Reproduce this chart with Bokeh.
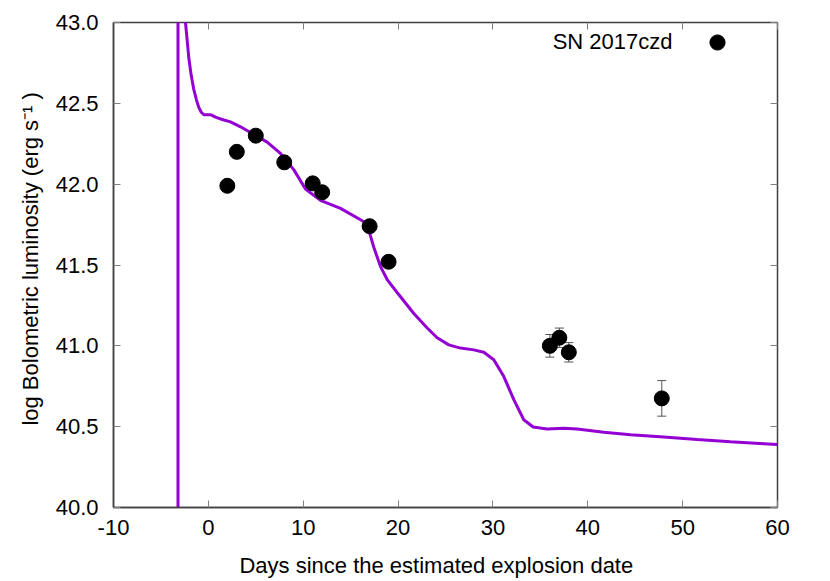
from bokeh.plotting import figure
from bokeh.models import (ColumnDataSource, Range1d, FixedTicker, PrintfTickFormatter,
                          LinearAxis, Whisker, TeeHead, Legend, LegendItem, Label)
from bokeh.embed import file_html
from bokeh.resources import INLINE

# ---- data ----
obs_days = [2.0, 3.0, 5.0, 8.0, 11.0, 12.0, 17.0, 19.0, 36.0, 37.0, 38.0, 47.8]
obs_lum = [41.99, 42.20, 42.30, 42.135, 42.005, 41.95, 41.74, 41.52, 41.00, 41.05, 40.96, 40.675]
obs_err = [0.0, 0.0, 0.0, 0.0, 0.0, 0.0, 0.0, 0.0, 0.07, 0.06, 0.06, 0.11]

model_days = [-3.2, -3.2, -2.9, -2.6, -2.41, -2.2, -2.06, -1.8, -1.55, -1.25, -1.01, -0.75,
              -0.48, 0.23, 0.75, 1.46,
              2.33, 3.39, 4.44, 6.2, 7.6, 9.0, 10.24, 11.82, 13.93, 16.04, 16.74, 17.09,
              17.44, 18.15, 18.85, 19.9, 21.66, 23.07, 24.12, 25.35, 26.58, 27.98, 29.04,
              30.09, 31.15, 32.2, 33.25, 34.24, 35.72, 37.47, 38.88, 41.69, 44.5, 48.01,
              51.53, 55.04, 58.55, 60.0]
model_lum = [38.0, 44.5, 44.0, 43.3, 43.0, 42.87, 42.78, 42.67, 42.59, 42.52, 42.475, 42.445,
             42.43, 42.43, 42.415, 42.40,
             42.385, 42.355, 42.32, 42.26, 42.19, 42.09, 41.97, 41.90, 41.85, 41.78, 41.755, 41.68,
             41.61, 41.49, 41.41, 41.33, 41.20, 41.11, 41.05, 41.006, 40.986, 40.975, 40.96,
             40.914, 40.81, 40.667, 40.543, 40.498, 40.486, 40.49, 40.486, 40.465, 40.45, 40.436,
             40.42, 40.407, 40.395, 40.39]

x_ticks = [-10, 0, 10, 20, 30, 40, 50, 60]
y_ticks = [40.0, 40.5, 41.0, 41.5, 42.0, 42.5, 43.0]

legend_label = "SN 2017czd"
x_title = "Days since the estimated explosion date"
y_title = "log Bolometric luminosity (erg s\u207b\u00b9 )"

FONT = "Liberation Sans"
FS = "22px"
VIOLET = "#9400D3"
FRAME = "#404040"
TICK = "#808080"
NB = "\u00a0"

p = figure(frame_width=664, frame_height=485, output_backend="svg", toolbar_location=None,
           x_range=Range1d(-10, 60), y_range=Range1d(40, 43),
           min_border_left=113, min_border_right=45, min_border_top=22, min_border_bottom=71)
p.xgrid.visible = False
p.ygrid.visible = False
p.outline_line_color = FRAME
p.outline_line_width = 1.5
p.background_fill_color = "white"
p.border_fill_color = "white"

for ax, ticks in ((p.xaxis[0], x_ticks), (p.yaxis[0], y_ticks)):
    ax.ticker = FixedTicker(ticks=ticks)
    ax.major_tick_in = 7
    ax.major_tick_out = 0
    ax.minor_tick_in = 0
    ax.minor_tick_out = 0
    ax.major_tick_line_color = TICK
    ax.axis_line_color = FRAME
    ax.axis_line_width = 1.5
    ax.major_label_text_font = FONT
    ax.major_label_text_font_size = FS
    ax.major_label_text_color = "black"
    ax.axis_label_text_font = FONT
    ax.axis_label_text_font_size = FS
    ax.axis_label_text_font_style = "normal"
    ax.axis_label_text_color = "black"

p.xaxis[0].formatter = PrintfTickFormatter(format="%d")
p.yaxis[0].formatter = PrintfTickFormatter(format="%.1f")
# non-breaking spaces only nudge the centred titles to where the reference has them
p.xaxis[0].axis_label = x_title + NB * 3
p.yaxis[0].axis_label = NB * 2 + y_title
p.xaxis[0].major_label_standoff = 12
p.xaxis[0].axis_label_standoff = 15
p.yaxis[0].major_label_standoff = 15
p.yaxis[0].axis_label_standoff = 10

# mirror ticks on top/right
for loc, ticks in (("above", x_ticks), ("right", y_ticks)):
    ax = LinearAxis(ticker=FixedTicker(ticks=ticks), major_tick_in=7, major_tick_out=0,
                    minor_tick_in=0, minor_tick_out=0, major_tick_line_color=TICK,
                    axis_line_color=None, major_label_text_color=None,
                    major_label_text_font_size="0px", major_label_standoff=0)
    p.add_layout(ax, loc)

# model curve
p.line(model_days, model_lum, line_color=VIOLET, line_width=3)

# error bars
err_src = ColumnDataSource(data=dict(
    x=[d for d, e in zip(obs_days, obs_err) if e > 0],
    lo=[l - e for l, e in zip(obs_lum, obs_err) if e > 0],
    hi=[l + e for l, e in zip(obs_lum, obs_err) if e > 0],
))
p.add_layout(Whisker(source=err_src, base="x", lower="lo", upper="hi", dimension="height",
                     line_color="#555555", line_width=1,
                     upper_head=TeeHead(size=9, line_color="#555555", line_width=1),
                     lower_head=TeeHead(size=9, line_color="#555555", line_width=1)))

# observations
r = p.scatter(obs_days, obs_lum, size=15, marker="circle", fill_color="black", line_color="black")

# legend: key marker (gnuplot style: text on the left, sample on the right)
legend = Legend(items=[LegendItem(label=" ", renderers=[r])],
                location=(585, 446.5), glyph_width=38, glyph_height=38, label_height=20,
                label_width=1, label_standoff=0, padding=0, spacing=0, margin=0,
                label_text_font=FONT, label_text_font_size="10px",
                background_fill_alpha=0, border_line_alpha=0)
p.add_layout(legend)
p.add_layout(Label(x=48.93, y=42.885, text=legend_label, text_align="right",
                   text_baseline="middle", text_font=FONT, text_font_size=FS,
                   text_color="black"))

open("out.html", "w").write(file_html(p, INLINE))
